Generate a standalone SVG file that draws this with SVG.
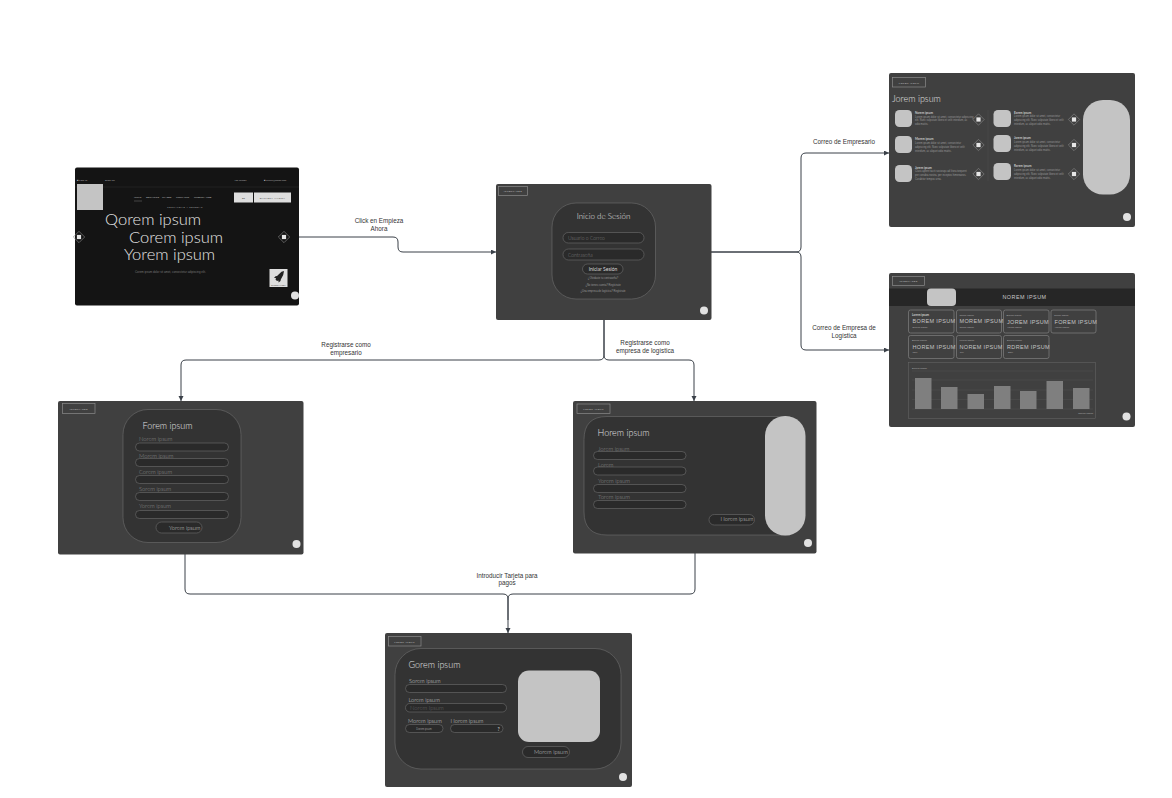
<svg xmlns="http://www.w3.org/2000/svg" width="1172" height="798" viewBox="0 0 1172 798">
<style>
text{font-family:"Lato","Noto Sans",sans-serif}
.screen{fill:#404040}
.card{fill:#333;stroke:#6e6e6e;stroke-width:.6}
.input{fill:#2a2a2a;stroke:#6e6e6e;stroke-width:.6}
.tag{fill:none;stroke:#8a8a8a;stroke-width:.7}
.tagt{font-size:2.3px;fill:#c0c0c0;letter-spacing:.4px;text-anchor:middle;font-family:"Liberation Sans",sans-serif}
.dot{fill:#e2e2e2}
.grey{fill:#c4c4c4}
.h1{font-size:9px;fill:#e2e2e2;font-weight:300}
.lab{font-size:5.8px;fill:#8f8f8f;font-weight:300}
.labw{font-size:5.7px;fill:#d0d0d0;font-weight:300}
.tiny{font-size:2.6px;fill:#999;font-family:"Liberation Sans",sans-serif}
.tinyh{font-size:3px;fill:#c8c8c8;font-weight:700}
.conn{fill:none;stroke:#3a4048;stroke-width:1}
.cl{font-family:"Liberation Sans",Arial,sans-serif;font-size:6.3px;fill:#333;text-anchor:middle}
.big{font-size:16.5px;fill:#e4e4e4;font-weight:300}
.kt{font-size:5.5px;fill:#c4c4c4;letter-spacing:.35px;font-family:"Liberation Sans",sans-serif}
.ks{font-size:2.5px;fill:#b0b0b0;font-family:"Liberation Sans",sans-serif}
.kc{fill:none;stroke:#8a8a8a;stroke-width:.6}
.bar{fill:#7f7f7f}
.gl{stroke:#555;stroke-width:.4}
.top{font-size:2.4px;fill:#b8b8b8;font-family:"Liberation Sans",sans-serif}
</style>
<defs>
<marker id="arr" markerUnits="userSpaceOnUse" markerWidth="6" markerHeight="6" refX="5" refY="2.5" orient="auto"><path d="M0,0L5,2.5L0,5Z" fill="#3a4048"/></marker>
<g id="dia"><rect x="-4" y="-4" width="8" height="8" transform="rotate(45)" fill="none" stroke="#888" stroke-width=".6"/><rect x="-2.1" y="-2.1" width="4.2" height="4.2" fill="#e6e6e6"/></g>
</defs>
<rect width="1172" height="798" fill="#fff"/>

<g id="connectors">
<path class="conn" marker-end="url(#arr)" d="M299,237H393Q398,237 398,242V247Q398,252 403,252H496"/>
<path class="conn" marker-end="url(#arr)" d="M711,252H796Q801,252 801,247V158Q801,153 806,153H889"/>
<path class="conn" marker-end="url(#arr)" d="M711,252H796Q801,252 801,257V345Q801,350 806,350H889"/>
<path class="conn" marker-end="url(#arr)" d="M604,320V355Q604,360 599,360H186Q181,360 181,365V401"/>
<path class="conn" marker-end="url(#arr)" d="M604,320V355Q604,360 609,360H689Q694,360 694,365V401"/>
<path class="conn" marker-end="url(#arr)" d="M185,554V589Q185,594 190,594H503Q508,594 508,599V633"/>
<path class="conn" d="M695,553V589Q695,594 690,594H513Q508,594 508,599V620"/>
<text class="cl" x="379" y="223">Click en Empieza</text><text class="cl" x="379" y="231">Ahora</text>
<text class="cl" x="844" y="144">Correo de Empresario</text>
<text class="cl" x="844" y="330">Correo de Empresa de</text><text class="cl" x="844" y="338">Logística</text>
<text class="cl" x="346" y="347">Registrarse como</text><text class="cl" x="346" y="355">empresario</text>
<text class="cl" x="645" y="345">Registrarse como</text><text class="cl" x="645" y="353">empresa de logística</text>
<text class="cl" x="507" y="578">Introducir Tarjeta para</text><text class="cl" x="507" y="585">pagos</text>
</g>

<g id="node-home">
<rect x="75" y="167.5" width="224" height="138" rx="2" fill="#141414"/>
<line x1="75" y1="187" x2="299" y2="187" stroke="#2c2c2c" stroke-width=".5"/>
<text class="top" x="77" y="180.500">■ LOG IN</text><text class="top" x="105" y="180.500">SIGN UP</text>
<text class="top" x="234" y="180.500">+51 987654</text><text class="top" x="264" y="180.500">■ correo@gmail.com</text>
<rect class="grey" x="77" y="184" width="26" height="26"/>
<text class="top" x="134" y="198">INICIO</text><text class="top" x="146" y="198">SERVICIOS</text><text class="top" x="162" y="198">CLASES</text><text class="top" x="176" y="198">CONTACTO</text><text class="top" x="194" y="198">NUESTRA WEB</text>
<line x1="134" y1="201" x2="142" y2="201" stroke="#777" stroke-width=".5"/>
<text class="top" x="185" y="207.500" text-anchor="middle" style="letter-spacing:.5px;font-size:2.1px">PORTAFOLIO Y RESEÑAS</text>
<rect x="234" y="192.500" width="19" height="10" fill="#dedede"/><rect x="254" y="192.500" width="37" height="10" fill="#dedede"/>
<text x="243.500" y="198.500" style="font-size:2.5px;fill:#333" text-anchor="middle">ES</text>
<text x="272.500" y="198.500" style="font-size:2.4px;fill:#333;letter-spacing:.5px" text-anchor="middle">EMPIEZA AHORA</text>
<text class="big" x="105" y="225">Qorem ipsum</text>
<text class="big" x="129" y="243">Corem ipsum</text>
<text class="big" x="124" y="260">Yorem ipsum</text>
<text class="tiny" x="135" y="273" style="fill:#777;font-size:2.9px">Corem ipsum dolor sit amet, consectetur adipiscing elit.</text>
<use href="#dia" x="79" y="237"/><use href="#dia" x="284" y="237"/>
<rect x="269.500" y="269" width="18" height="18" fill="#dedede"/>
<path d="M284,272L281.500,272.800L277,277L275.500,277.200L274,279L276,279L275.500,280.500L277,282L278.500,281.500L278.500,283.500L280.500,282L280.800,280.500L283.200,276Z" fill="#222" transform="translate(0,-1)"/>
<text x="278.500" y="285.500" style="font-size:1.8px;fill:#333" text-anchor="middle">EMPIEZA AHORA</text>
<circle class="dot" cx="295" cy="295.500" r="4"/>
</g>

<g id="node-login">
<rect class="screen" x="496" y="184" width="215.500" height="136" rx="2"/>
<rect class="tag" x="498.500" y="186.500" width="29" height="9"/><text class="tagt" x="513" y="192">INTERFACES</text>
<rect class="card" x="552" y="203" width="103.500" height="96" rx="24"/>
<text x="603.500" y="219" style="font-size:8px;fill:#e2e2e2;font-weight:300" text-anchor="middle">Inicio de Sesión</text>
<rect class="input" x="563" y="232.500" width="81" height="10.500" rx="5.200"/>
<text x="568" y="240" style="font-size:5px;fill:#808080;font-weight:300">Usuario o Correo</text>
<rect class="input" x="563" y="249" width="81" height="11" rx="5.500"/>
<text x="568" y="256.500" style="font-size:5px;fill:#808080;font-weight:300">Contraseña</text>
<rect class="input" x="582.500" y="264" width="40.500" height="10" rx="5"/>
<text x="603" y="271" style="font-size:5px;fill:#d8d8d8" text-anchor="middle">Iniciar Sesión</text>
<text class="tiny" x="603" y="279" text-anchor="middle">¿Olvidaste tu contraseña?</text>
<text class="tiny" x="603" y="286" text-anchor="middle">¿No tienes cuenta? Regístrate</text>
<text class="tiny" x="603" y="291.500" text-anchor="middle">¿Una empresa de logística? Regístrate</text>
<circle class="dot" cx="704" cy="310.500" r="4"/>
</g>

<g id="node-empresario">
<rect class="screen" x="889" y="73" width="246" height="154" rx="2"/>
<rect class="tag" x="892.500" y="77.500" width="33" height="9.500"/><text class="tagt" x="909" y="83.500">LOREM IPSUM</text>
<text class="h1" x="892" y="101.500">Jorem ipsum</text>
<rect class="grey" x="895" y="110" width="17" height="17" rx="4.500"/><rect class="grey" x="895" y="136" width="17" height="17" rx="4.500"/><rect class="grey" x="895" y="165" width="17" height="17" rx="4.500"/>
<rect class="grey" x="993.500" y="110" width="17.500" height="17" rx="4.500"/><rect class="grey" x="993.500" y="135" width="17.500" height="17" rx="4.500"/><rect class="grey" x="993.500" y="163" width="17.500" height="17" rx="4.500"/>
<line x1="988" y1="110" x2="988" y2="181" stroke="#4e4e4e" stroke-width=".5"/>
<text class="tinyh" x="915" y="113.500">Norem ipsum</text>
<text class="tiny" x="915" y="117.500">Lorem ipsum dolor sit amet, consectetur adipiscing</text><text class="tiny" x="915" y="121">elit. Nunc vulputate libero et velit interdum, ac</text><text class="tiny" x="915" y="125">odio mattis.</text>
<text class="tinyh" x="915" y="140">Morem ipsum</text>
<text class="tiny" x="915" y="143.500">Lorem ipsum dolor sit amet, consectetur</text><text class="tiny" x="915" y="147.500">adipiscing elit. Nunc vulputate libero et velit</text><text class="tiny" x="915" y="151.500">interdum, ac aliquet odio mattis.</text>
<text class="tinyh" x="915" y="168.500">Jorem ipsum</text>
<text class="tiny" x="915" y="172">Class aptent taciti sociosqu ad litora torquent</text><text class="tiny" x="915" y="176">per conubia nostra, per inceptos himenaeos.</text><text class="tiny" x="915" y="180">Curabitur tempus urna.</text>
<text class="tinyh" x="1014" y="113.500">Eorem ipsum</text>
<text class="tiny" x="1014" y="117">Lorem ipsum dolor sit amet, consectetur</text><text class="tiny" x="1014" y="121">adipiscing elit. Nunc vulputate libero et velit</text><text class="tiny" x="1014" y="125">interdum, ac aliquet odio mattis.</text>
<text class="tinyh" x="1014" y="138.500">Jorem ipsum</text>
<text class="tiny" x="1014" y="142.500">Lorem ipsum dolor sit amet, consectetur</text><text class="tiny" x="1014" y="146.500">adipiscing elit. Nunc vulputate libero et velit</text><text class="tiny" x="1014" y="150.500">interdum, ac aliquet odio mattis.</text>
<text class="tinyh" x="1014" y="166.500">Rorem ipsum</text>
<text class="tiny" x="1014" y="171">Lorem ipsum dolor sit amet, consectetur</text><text class="tiny" x="1014" y="175">adipiscing elit. Nunc vulputate libero et velit</text><text class="tiny" x="1014" y="179">interdum, ac aliquet odio mattis.</text>
<use href="#dia" x="978.500" y="119.500"/><use href="#dia" x="978.500" y="145"/><use href="#dia" x="978.500" y="174"/>
<use href="#dia" x="1074" y="119.500"/><use href="#dia" x="1074" y="145"/><use href="#dia" x="1074" y="174"/>
<rect class="grey" x="1083" y="100" width="47" height="94.500" rx="20"/>
<circle class="dot" cx="1127" cy="217" r="4"/>
</g>

<g id="node-logistica">
<rect class="screen" x="889" y="273" width="246" height="154" rx="2"/>
<rect class="tag" x="892.500" y="276.500" width="32" height="9"/><text class="tagt" x="908.500" y="282">INTERFACES</text>
<rect x="889" y="288.500" width="246" height="17.500" fill="#262626"/>
<rect class="grey" x="927" y="288.500" width="29" height="17.500" rx="4"/>
<text x="1024.500" y="299" style="font-size:5.4px;fill:#c8c8c8;letter-spacing:.5px;font-family:'Liberation Sans',sans-serif" text-anchor="middle">NOREM IPSUM</text>
<rect class="kc" x="908.500" y="310" width="45.500" height="23" rx="2"/><rect class="kc" x="956.500" y="310" width="45" height="23" rx="2"/><rect class="kc" x="1003.500" y="310" width="45.500" height="23" rx="2"/><rect class="kc" x="1051" y="310" width="45" height="23" rx="2"/>
<rect class="kc" x="908.500" y="335.500" width="45.500" height="23" rx="2"/><rect class="kc" x="956.500" y="335.500" width="45" height="23" rx="2"/><rect class="kc" x="1003.500" y="335.500" width="45.500" height="23" rx="2"/>
<text class="tinyh" x="912" y="315.500">Lorem ipsum</text><text class="ks" x="959.500" y="315.500">Torem ipsum</text><text class="ks" x="1006.500" y="315.500">Borem ipsum</text><text class="ks" x="1054" y="315.500">Jorem ipsum</text>
<text class="kt" x="912.500" y="323">BOREM IPSUM</text><text class="kt" x="959.500" y="323">MOREM IPSUM</text><text class="kt" x="1007" y="323.500">JOREM IPSUM</text><text class="kt" x="1054.500" y="323.500">FOREM IPSUM</text>
<text class="ks" x="912.500" y="327.500">Dorem ipsum</text><text class="ks" x="959.500" y="327.500">Jorem ipsum</text><text class="ks" x="1007" y="328">Yorem ipsum</text><text class="ks" x="1054.500" y="328">Yorem ipsum</text>
<text class="ks" x="912" y="341">Borem ipsum</text><text class="ks" x="959.500" y="341">Forem ipsum</text><text class="ks" x="1007" y="341">Dorem ipsum</text>
<text class="kt" x="912.500" y="348.500">HOREM IPSUM</text><text class="kt" x="959.500" y="348.500">NOREM IPSUM</text><text class="kt" x="1007" y="348.500">RDREM IPSUM</text>
<text class="ks" x="912.500" y="353">15%</text><text class="ks" x="960" y="353">8%</text><text class="ks" x="1008" y="353">25%</text>
<rect fill="none" stroke="#686868" stroke-width=".5" x="908.500" y="362.500" width="187" height="56"/>
<text class="ks" x="912" y="368.500">Dorem ipsum</text>
<line class="gl" x1="912" y1="371" x2="1093" y2="371"/><line class="gl" x1="912" y1="380" x2="1093" y2="380"/><line class="gl" x1="912" y1="390" x2="1093" y2="390"/><line class="gl" x1="912" y1="399.500" x2="1093" y2="399.500"/><line class="gl" x1="912" y1="409" x2="1093" y2="409"/>
<rect class="bar" x="915" y="378" width="16.500" height="31"/><rect class="bar" x="941" y="387" width="16.500" height="22"/><rect class="bar" x="967.500" y="394" width="16.500" height="15"/><rect class="bar" x="994" y="386" width="16.500" height="23"/><rect class="bar" x="1020" y="391" width="16.500" height="18"/><rect class="bar" x="1046.500" y="381" width="16.500" height="28"/><rect class="bar" x="1073" y="388" width="16.500" height="21"/>
<text class="ks" x="1093" y="413.500" text-anchor="end">Norem ipsum</text>
<circle class="dot" cx="1126.500" cy="416.500" r="4"/>
</g>

<g id="node-registro-empresario">
<rect class="screen" x="58" y="401" width="245.500" height="153.500" rx="2"/>
<rect class="tag" x="62.500" y="403.500" width="32.500" height="10"/><text class="tagt" x="78.700" y="409.500">INTERFACES</text>
<rect class="card" x="123" y="409.500" width="118" height="133" rx="25"/>
<text class="h1" x="142.500" y="428.500">Forem ipsum</text>
<text class="lab" x="139" y="441">Norem ipsum</text><rect class="input" x="135.500" y="443" width="93" height="8" rx="4"/>
<text class="lab" x="139" y="457.500">Morem ipsum</text><rect class="input" x="135.500" y="458.500" width="93" height="8" rx="4"/>
<text class="lab" x="139" y="473.500">Corem ipsum</text><rect class="input" x="135.500" y="475.500" width="93" height="8" rx="4"/>
<text class="lab" x="139" y="490.500">Sorem ipsum</text><rect class="input" x="135.500" y="492.500" width="93" height="8" rx="4"/>
<text class="lab" x="139" y="508">Yorem ipsum</text><rect class="input" x="135.500" y="510.500" width="93" height="8" rx="4"/>
<rect class="input" x="156" y="522" width="46" height="11" rx="5.500"/>
<text class="labw" x="169" y="530">Yorem ipsum</text>
<circle class="dot" cx="296.500" cy="544" r="4"/>
</g>

<g id="node-registro-logistica">
<rect class="screen" x="573" y="401" width="243.500" height="152.500" rx="2"/>
<rect class="tag" x="577" y="404" width="33" height="9.500"/><text class="tagt" x="593.500" y="410">LOREM IPSUM</text>
<path class="card" d="M607,416.500H790V535H607Q584,535 584,512V439.500Q584,416.500 607,416.500Z"/>
<rect class="grey" x="765" y="416" width="40.500" height="119.500" rx="20"/>
<text class="h1" x="597.500" y="435.500">Horem ipsum</text>
<text class="lab" x="598" y="450.500">Jorem ipsum</text><rect class="input" x="593.500" y="451.500" width="92.500" height="8" rx="4"/>
<text class="lab" x="598" y="466.500">Lorem</text><rect class="input" x="593.500" y="467" width="92.500" height="8" rx="4"/>
<text class="lab" x="598" y="482.500">Yorem ipsum</text><rect class="input" x="593.500" y="484.500" width="92.500" height="8" rx="4"/>
<text class="lab" x="598" y="499">Torem ipsum</text><rect class="input" x="593.500" y="500.500" width="92.500" height="8" rx="4"/>
<rect class="input" x="709" y="514.500" width="45.500" height="10.500" rx="5.200"/>
<text class="labw" x="720.500" y="520.500">Horem ipsum</text>
<circle class="dot" cx="808" cy="543" r="4"/>
</g>

<g id="node-tarjeta">
<rect class="screen" x="385" y="633" width="247" height="154" rx="2"/>
<rect class="tag" x="388.500" y="636.500" width="32.500" height="9.500"/><text class="tagt" x="404.500" y="642.500">LOREM IPSUM</text>
<rect class="card" x="395" y="648.500" width="226" height="120.500" rx="26"/>
<text class="h1" x="408.500" y="667.500">Gorem ipsum</text>
<text class="labw" x="409" y="682.500">Sorem ipsum</text><rect class="input" x="405.500" y="684.500" width="101" height="8" rx="4"/>
<text class="labw" x="408.500" y="701.500">Lorem ipsum</text><rect class="input" x="405.500" y="703.500" width="101" height="8.500" rx="4.200"/>
<text class="lab" x="410" y="710" style="fill:#666">Norem Ipsum</text>
<text class="labw" x="408" y="723">Morem ipsum</text><text class="labw" x="450.500" y="723">Horem ipsum</text>
<rect class="input" x="405.500" y="724.500" width="37.500" height="8" rx="4"/><rect class="input" x="450.500" y="724.500" width="52.500" height="8" rx="4"/>
<text class="tiny" x="424" y="729.500" text-anchor="middle">Dorem ipsum</text>
<text x="498.500" y="731" style="font-size:5px;fill:#ddd" text-anchor="middle">?</text>
<rect class="grey" x="518" y="670.500" width="82" height="71.500" rx="11"/>
<rect class="input" x="522.500" y="746.500" width="47" height="11" rx="5.500"/>
<text class="labw" x="534" y="754">Morem ipsum</text>
<circle class="dot" cx="623" cy="777" r="4"/>
</g>
</svg>
